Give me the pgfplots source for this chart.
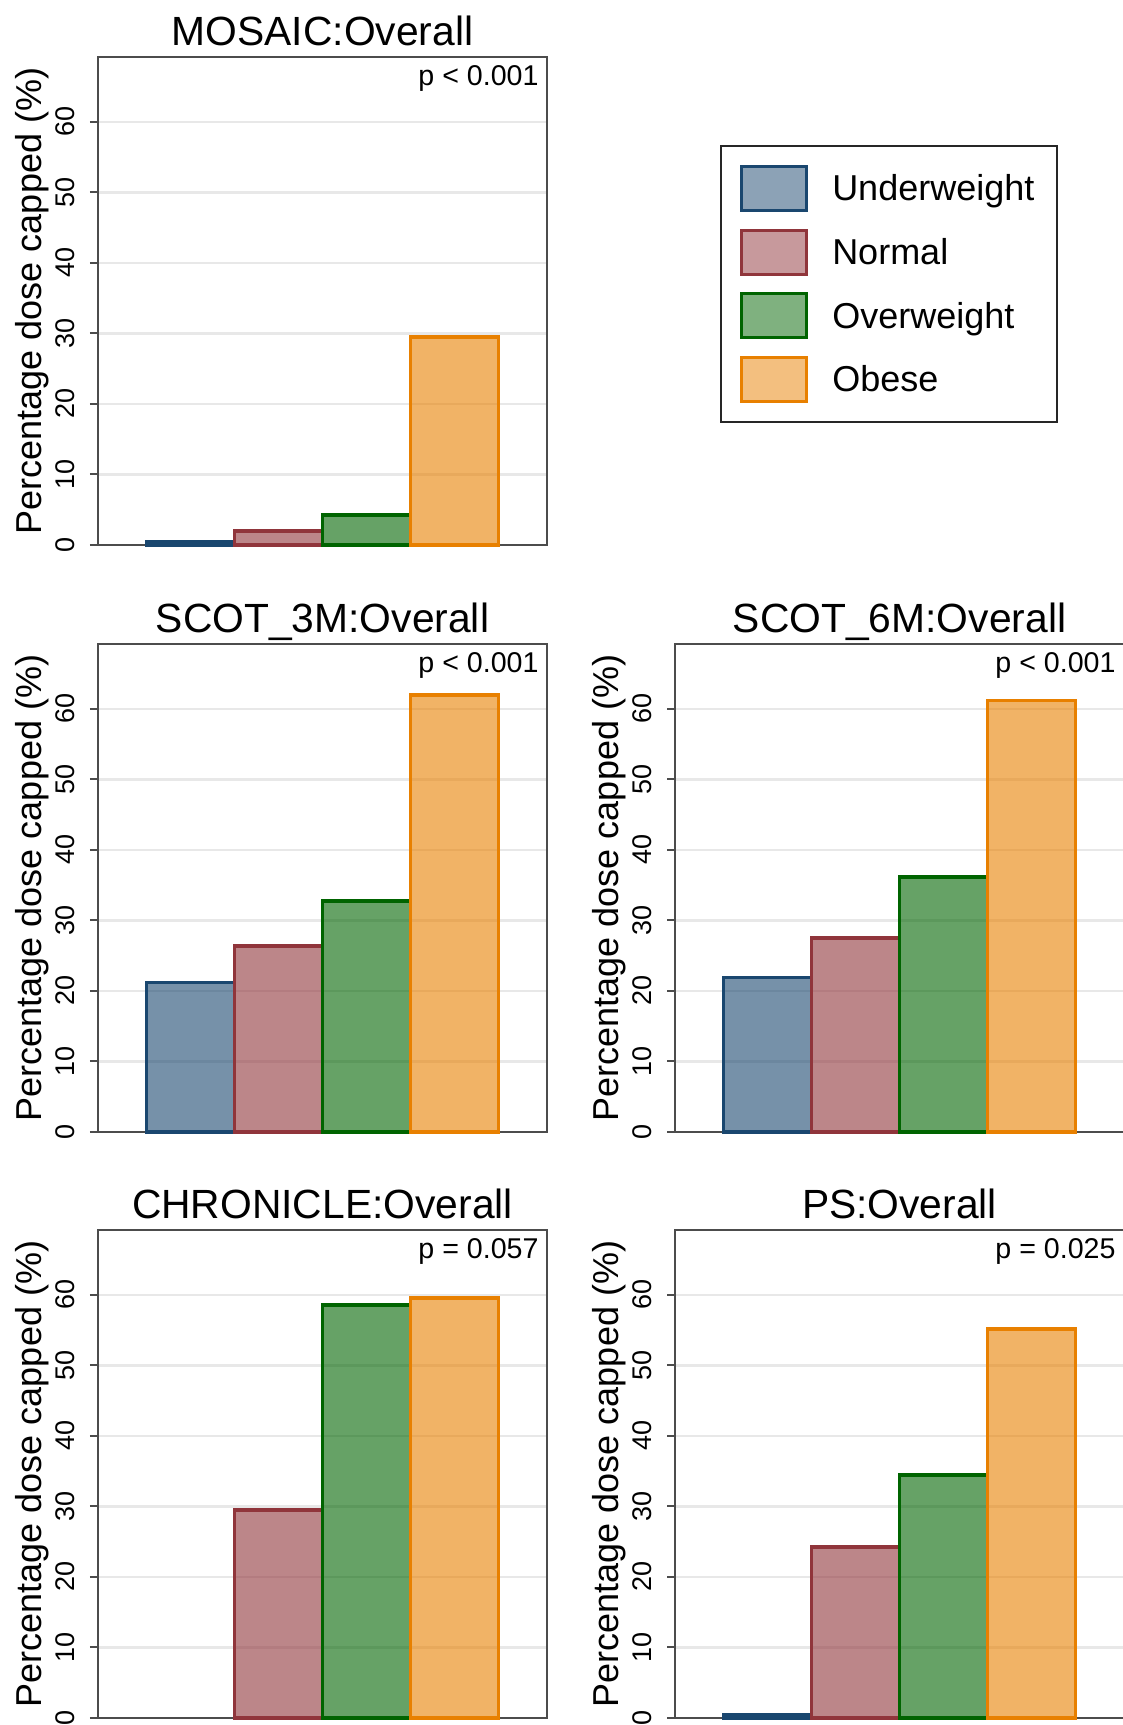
\documentclass[border=0pt]{standalone}
\usepackage{fontspec}
\setmainfont{Liberation Sans}
\usepackage{pgfplots}
\pgfplotsset{compat=1.18}
\definecolor{navyc}{RGB}{26,71,111}
\definecolor{maroonc}{RGB}{144,53,59}
\definecolor{greenc}{RGB}{0,100,0}
\definecolor{orangec}{RGB}{232,128,0}
\pgfplotsset{
  panel/.style={
    scale only axis, width=224.5pt, height=244pt,
    anchor=north west,
    xmin=-0.05, xmax=5.05, ymin=0, ymax=69.2,
    xtick=\empty, ytick={0,10,...,60}, ytick pos=left,
    ymajorgrids,
    major grid style={line width=1.2pt, color=black!9},
    axis line style={line width=1pt, color=black!70},
    every tick/.style={line width=1pt, black!70},
    tick align=outside, major tick length=4pt,
    /pgf/number format/assume math mode=true,
    yticklabel style={rotate=90, anchor=south, font=\fontsize{13.5}{14}\selectfont, yshift=4.3pt},
    ylabel={Percentage dose capped (\%)},
    ylabel style={at={(axis description cs:-0.147,0.5)}, anchor=center, font=\fontsize{18}{20}\selectfont},
    title style={at={(axis description cs:0.5,1)}, anchor=base, yshift=0pt, font=\fontsize{20.4}{22}\selectfont},
    clip=false,
  },
  uw/.style={ybar, bar width=1, bar shift=0pt, draw=navyc, fill=navyc, fill opacity=0.6, line width=1.9pt},
  nw/.style={ybar, bar width=1, bar shift=0pt, draw=maroonc, fill=maroonc, fill opacity=0.6, line width=1.9pt},
  ow/.style={ybar, bar width=1, bar shift=0pt, draw=greenc, fill=greenc, fill opacity=0.6, line width=1.9pt},
  ob/.style={ybar, bar width=1, bar shift=0pt, draw=orangec, fill=orangec, fill opacity=0.6, line width=1.9pt},
}
\newcommand{\pval}[1]{\node[anchor=base east, inner xsep=0pt, font=\fontsize{14.3}{15}\selectfont] at (rel axis cs:0.982,0.9426) {#1};}
\begin{document}
\begin{tikzpicture}
% MOSAIC
\begin{axis}[panel, at={(49pt,-28.5pt)}, title={MOSAIC:Overall},
  legend style={at={(axis description cs:1.385,0.8197)}, anchor=north west,
    draw=black!85, line width=1pt, fill=white, inner xsep=9.5pt, inner ysep=9.5pt,
    row sep=8.2pt, font=\fontsize{18}{20}\selectfont,
    /tikz/every odd column/.append style={column sep=10.1pt}},
  legend cell align=left,
  legend image code/.code={\draw[#1, fill opacity=0.5, line width=1.6pt] (0pt,-10.6pt) rectangle (32.5pt,11.4pt);},
]
\addplot[uw] coordinates {(1,0.45)}; \addlegendentry{Underweight}
\addplot[nw] coordinates {(2,2.0)}; \addlegendentry{Normal}
\addplot[ow] coordinates {(3,4.3)}; \addlegendentry{Overweight}
\addplot[ob] coordinates {(4,29.5)}; \addlegendentry{Obese}
\pval{p < 0.001}
\end{axis}
% SCOT_3M
\begin{axis}[panel, at={(49pt,-322pt)}, title={SCOT\_3M:Overall}]
\addplot[uw] coordinates {(1,21.2)};
\addplot[nw] coordinates {(2,26.4)};
\addplot[ow] coordinates {(3,32.8)};
\addplot[ob] coordinates {(4,62.0)};
\pval{p < 0.001}
\end{axis}
% SCOT_6M
\begin{axis}[panel, at={(337.5pt,-322pt)}, title={SCOT\_6M:Overall}]
\addplot[uw] coordinates {(1,21.9)};
\addplot[nw] coordinates {(2,27.5)};
\addplot[ow] coordinates {(3,36.2)};
\addplot[ob] coordinates {(4,61.2)};
\pval{p < 0.001}
\end{axis}
% CHRONICLE
\begin{axis}[panel, at={(49pt,-615pt)}, title={CHRONICLE:Overall}]
\addplot[nw] coordinates {(2,29.5)};
\addplot[ow] coordinates {(3,58.6)};
\addplot[ob] coordinates {(4,59.6)};
\pval{p = 0.057}
\end{axis}
% PS
\begin{axis}[panel, at={(337.5pt,-615pt)}, title={PS:Overall}]
\addplot[uw] coordinates {(1,0.5)};
\addplot[nw] coordinates {(2,24.3)};
\addplot[ow] coordinates {(3,34.5)};
\addplot[ob] coordinates {(4,55.2)};
\pval{p = 0.025}
\end{axis}
\pgfresetboundingbox
\path[use as bounding box] (0,0) rectangle (561.5pt,-862.5pt);
\end{tikzpicture}
\end{document}
